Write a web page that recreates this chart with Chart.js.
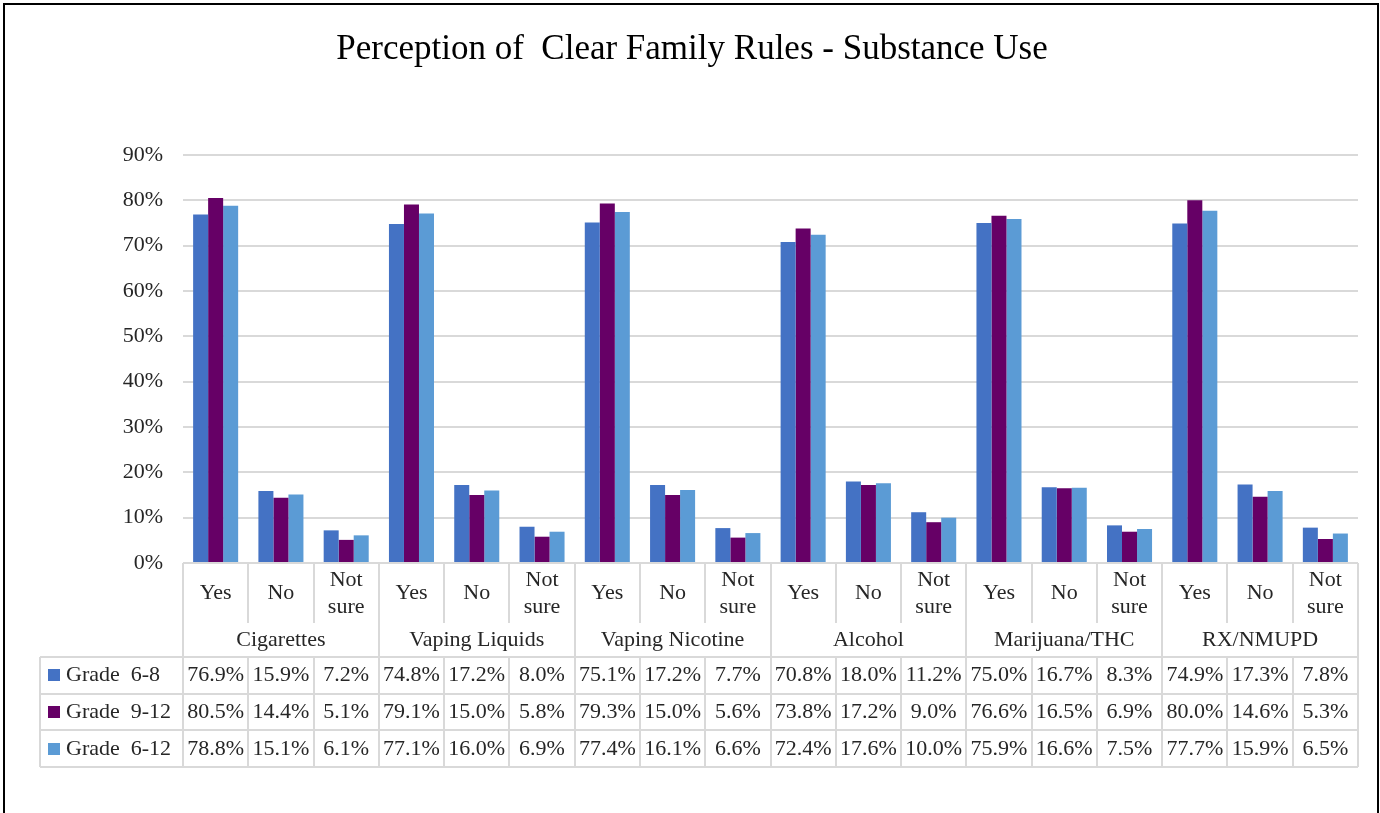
<!DOCTYPE html>
<html>
<head>
<meta charset="utf-8">
<script src="https://cdn.jsdelivr.net/npm/chart.js@4.4.0/dist/chart.umd.min.js"></script>
<style>
  html, body { margin: 0; padding: 0; background: #fff; }
  #wrap { position: relative; width: 1380px; height: 813px; }
</style>
</head>
<body>
<div id="wrap"><canvas id="rulesChart" width="1380" height="813"></canvas></div>
<script>
// Perception of Clear Family Rules - chart data
const groups = ['Cigarettes', 'Vaping Liquids', 'Vaping Nicotine', 'Alcohol', 'Marijuana/THC', 'RX/NMUPD'];
const answers = ['Yes', 'No', 'Not sure'];
const seriesNames = ['Grade  6-8', 'Grade  9-12', 'Grade  6-12'];
const seriesColors = ['#4472C4', '#660066', '#5B9BD5'];

const grade68 = [76.9, 15.9, 7.2, 74.8, 17.2, 8.0, 75.1, 17.2, 7.7, 70.8, 18.0, 11.2, 75.0, 16.7, 8.3, 74.9, 17.3, 7.8];
const grade912 = [80.5, 14.4, 5.1, 79.1, 15.0, 5.8, 79.3, 15.0, 5.6, 73.8, 17.2, 9.0, 76.6, 16.5, 6.9, 80.0, 14.6, 5.3];
const grade612 = [78.8, 15.1, 6.1, 77.1, 16.0, 6.9, 77.4, 16.1, 6.6, 72.4, 17.6, 10.0, 75.9, 16.6, 7.5, 77.7, 15.9, 6.5];
const yTicks = [0, 10, 20, 30, 40, 50, 60, 70, 80, 90];

const FONT = '"Liberation Serif", "DejaVu Serif", serif';
const TEXT = '#262626';
const LINE = '#d9d9d9';

const labels = [];
groups.forEach(() => answers.forEach(a => labels.push(a)));
const seriesData = [grade68, grade912, grade612];

// draws title, frame and the data table under the plot
const tablePlugin = {
    id: 'dataTable',
    afterDraw(chart) {
        const ctx = chart.ctx;
        const xs = chart.scales.x;
        const area = chart.chartArea;
        const n = labels.length;
        const w = (area.right - area.left) / n;
        const top = area.bottom;
        const rowCat = top + 60;   // end of answer row
        const rowGrp = top + 94;   // end of group row
        const rowH = 36.7;
        const legLeft = 40;

        ctx.save();
        // outer frame
        ctx.strokeStyle = '#000';
        ctx.lineWidth = 2;
        ctx.strokeRect(4, 4, 1374, 830);

        // title
        ctx.fillStyle = '#000';
        ctx.font = '35px ' + FONT;
        ctx.textAlign = 'center';
        ctx.textBaseline = 'middle';
        ctx.fillText('Perception of  Clear Family Rules - Substance Use', 692, 50);

        // table grid
        ctx.strokeStyle = LINE;
        ctx.lineWidth = 2;
        ctx.beginPath();
        for (let i = 0; i <= n; i++) {
            const x = Math.round(area.left + i * w);
            const full = (i % 3 === 0);
            ctx.moveTo(x, top);
            ctx.lineTo(x, full ? rowGrp + rowH * 3 : rowCat);
            if (!full) {
                ctx.moveTo(x, rowGrp);
                ctx.lineTo(x, rowGrp + rowH * 3);
            }
        }
        for (let r = 0; r <= 3; r++) {
            const y = Math.round(rowGrp + r * rowH);
            ctx.moveTo(legLeft, y);
            ctx.lineTo(area.right, y);
        }
        ctx.moveTo(legLeft, rowGrp);
        ctx.lineTo(legLeft, rowGrp + rowH * 3);
        ctx.stroke();

        // answer labels
        ctx.fillStyle = TEXT;
        ctx.font = '22px ' + FONT;
        ctx.textAlign = 'center';
        labels.forEach((lab, i) => {
            const cx = xs.getPixelForValue(i);
            const parts = lab.split(' ');
            if (parts.length > 1) {
                ctx.fillText(parts[0], cx, top + 17);
                ctx.fillText(parts[1], cx, top + 44);
            } else {
                ctx.fillText(lab, cx, top + 30);
            }
        });
        // group labels
        groups.forEach((g, gi) => {
            const cx = area.left + (gi * 3 + 1.5) * w;
            ctx.fillText(g, cx, top + 77);
        });
        // data rows
        seriesData.forEach((vals, si) => {
            const cy = rowGrp + rowH * si + rowH / 2;
            ctx.textAlign = 'center';
            ctx.fillStyle = TEXT;
            vals.forEach((v, i) => {
                ctx.fillText(v.toFixed(1) + '%', xs.getPixelForValue(i), cy);
            });
            ctx.fillStyle = seriesColors[si];
            ctx.fillRect(48, Math.round(cy - 6), 12, 12);
            ctx.fillStyle = TEXT;
            ctx.textAlign = 'left';
            ctx.fillText(seriesNames[si], 66, cy);
        });
        ctx.restore();
    }
};

const ctx = document.getElementById('rulesChart').getContext('2d');
new Chart(ctx, {
    type: 'bar',
    data: {
        labels: labels,
        datasets: seriesData.map((d, i) => ({
            label: seriesNames[i],
            data: d,
            backgroundColor: seriesColors[i],
            categoryPercentage: 0.69,
            barPercentage: 1.0
        }))
    },
    options: {
        responsive: false,
        animation: false,
        layout: { padding: { top: 155, right: 22, bottom: 250, left: 0 } },
        plugins: {
            legend: { display: false },
            title: { display: false },
            tooltip: { enabled: false }
        },
        scales: {
            x: {
                ticks: { display: false },
                grid: { display: false },
                border: { display: false },
                afterFit: s => { s.height = 0; }
            },
            y: {
                min: 0,
                max: 90,
                afterBuildTicks: s => { s.ticks = yTicks.map(v => ({ value: v })); },
                ticks: {
                    padding: 20,
                    color: TEXT,
                    font: { family: FONT, size: 22 },
                    callback: v => v + '%'
                },
                grid: { color: LINE, lineWidth: 2, drawTicks: false },
                border: { display: false },
                afterFit: s => { s.width = 183; }
            }
        }
    },
    plugins: [tablePlugin]
});
</script>
</body>
</html>
